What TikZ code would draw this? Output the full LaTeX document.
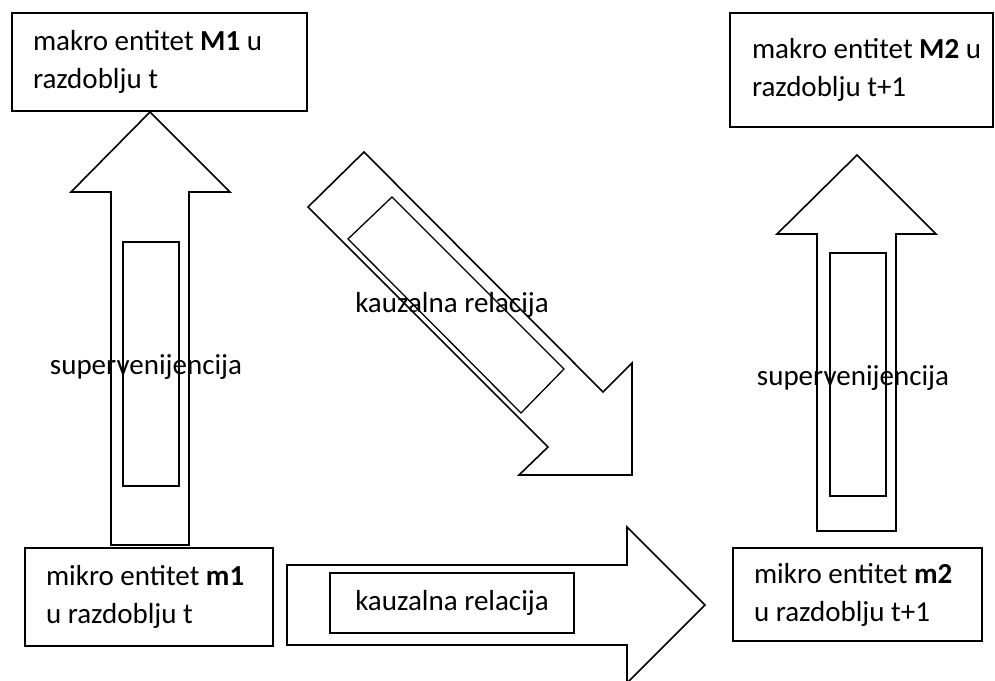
\documentclass[tikz,border=0pt]{standalone}
\usepackage{fontspec}
\setmainfont{Carlito}

\begin{document}
\begin{tikzpicture}[x=1pt, y=-1pt,
    entity/.style={draw, line width=1.6pt, align=flush left, inner xsep=21pt, inner ysep=0pt,
        font=\fontsize{29}{38}\selectfont},
    blockarrow/.style={draw, line width=1.6pt, fill=white, line join=miter},
    innerbox/.style={draw, line width=1.3pt},
    lbl/.style={font=\fontsize{29}{38}\selectfont, inner sep=0pt}]
    \useasboundingbox (0,0) rectangle (995,680);

    % Entity boxes
    \node[entity, text width=253pt, minimum width=295pt, minimum height=98pt]
        (makroA) at (159.5,62) {makro entitet \textbf{M1} u\\razdoblju t};
    \node[entity, inner xsep=22pt, text width=219pt, minimum width=263pt, minimum height=114pt]
        (makroB) at (861.5,70) {\mbox{makro entitet \textbf{M2} u}\\razdoblju t+1};
    \node[entity, text width=206pt, minimum width=248pt, minimum height=98pt]
        (mikroA) at (149,597) {mikro entitet \textbf{m1}\\u razdoblju t};
    \node[entity, text width=207pt, minimum width=249pt, minimum height=93pt]
        (mikroB) at (857.5,594.5) {mikro entitet \textbf{m2}\\u razdoblju t+1};

    % Supervenience arrows
    \draw[blockarrow] (111,545) -- (111,192) -- (71,192) -- (150,112)
        -- (230,192) -- (189,192) -- (189,545) -- cycle;
    \draw[innerbox] (123,242) rectangle (179,486);
    \draw[blockarrow] (817,531) -- (817,234) -- (777,234) -- (857,155)
        -- (936,234) -- (896,234) -- (896,531) -- cycle;
    \draw[innerbox] (830,253) rectangle (886,496);

    % Causal arrows
    \draw[blockarrow] (308,207) -- (364,152) -- (603,392) -- (632,363)
        -- (632,475) -- (519,475) -- (548,447) -- cycle;
    \draw[innerbox] (392,197) -- (564,369) -- (521,413) -- (348,239) -- cycle;
    \draw[blockarrow] (287,565) -- (627,565) -- (627,527) -- (705,605)
        -- (627,683) -- (627,645) -- (287,645) -- cycle;

    % Labels
    \node[lbl] (supA) at (146,367) {supervenijencija};
    \node[lbl] (supB) at (853,378) {supervenijencija};
    \node[lbl] (kauzA) at (452,305) {kauzalna relacija};
    \node[lbl, draw, line width=1.3pt, minimum width=244pt, minimum height=60pt]
        (kauzB) at (452,603) {kauzalna relacija};
\end{tikzpicture}
\end{document}
